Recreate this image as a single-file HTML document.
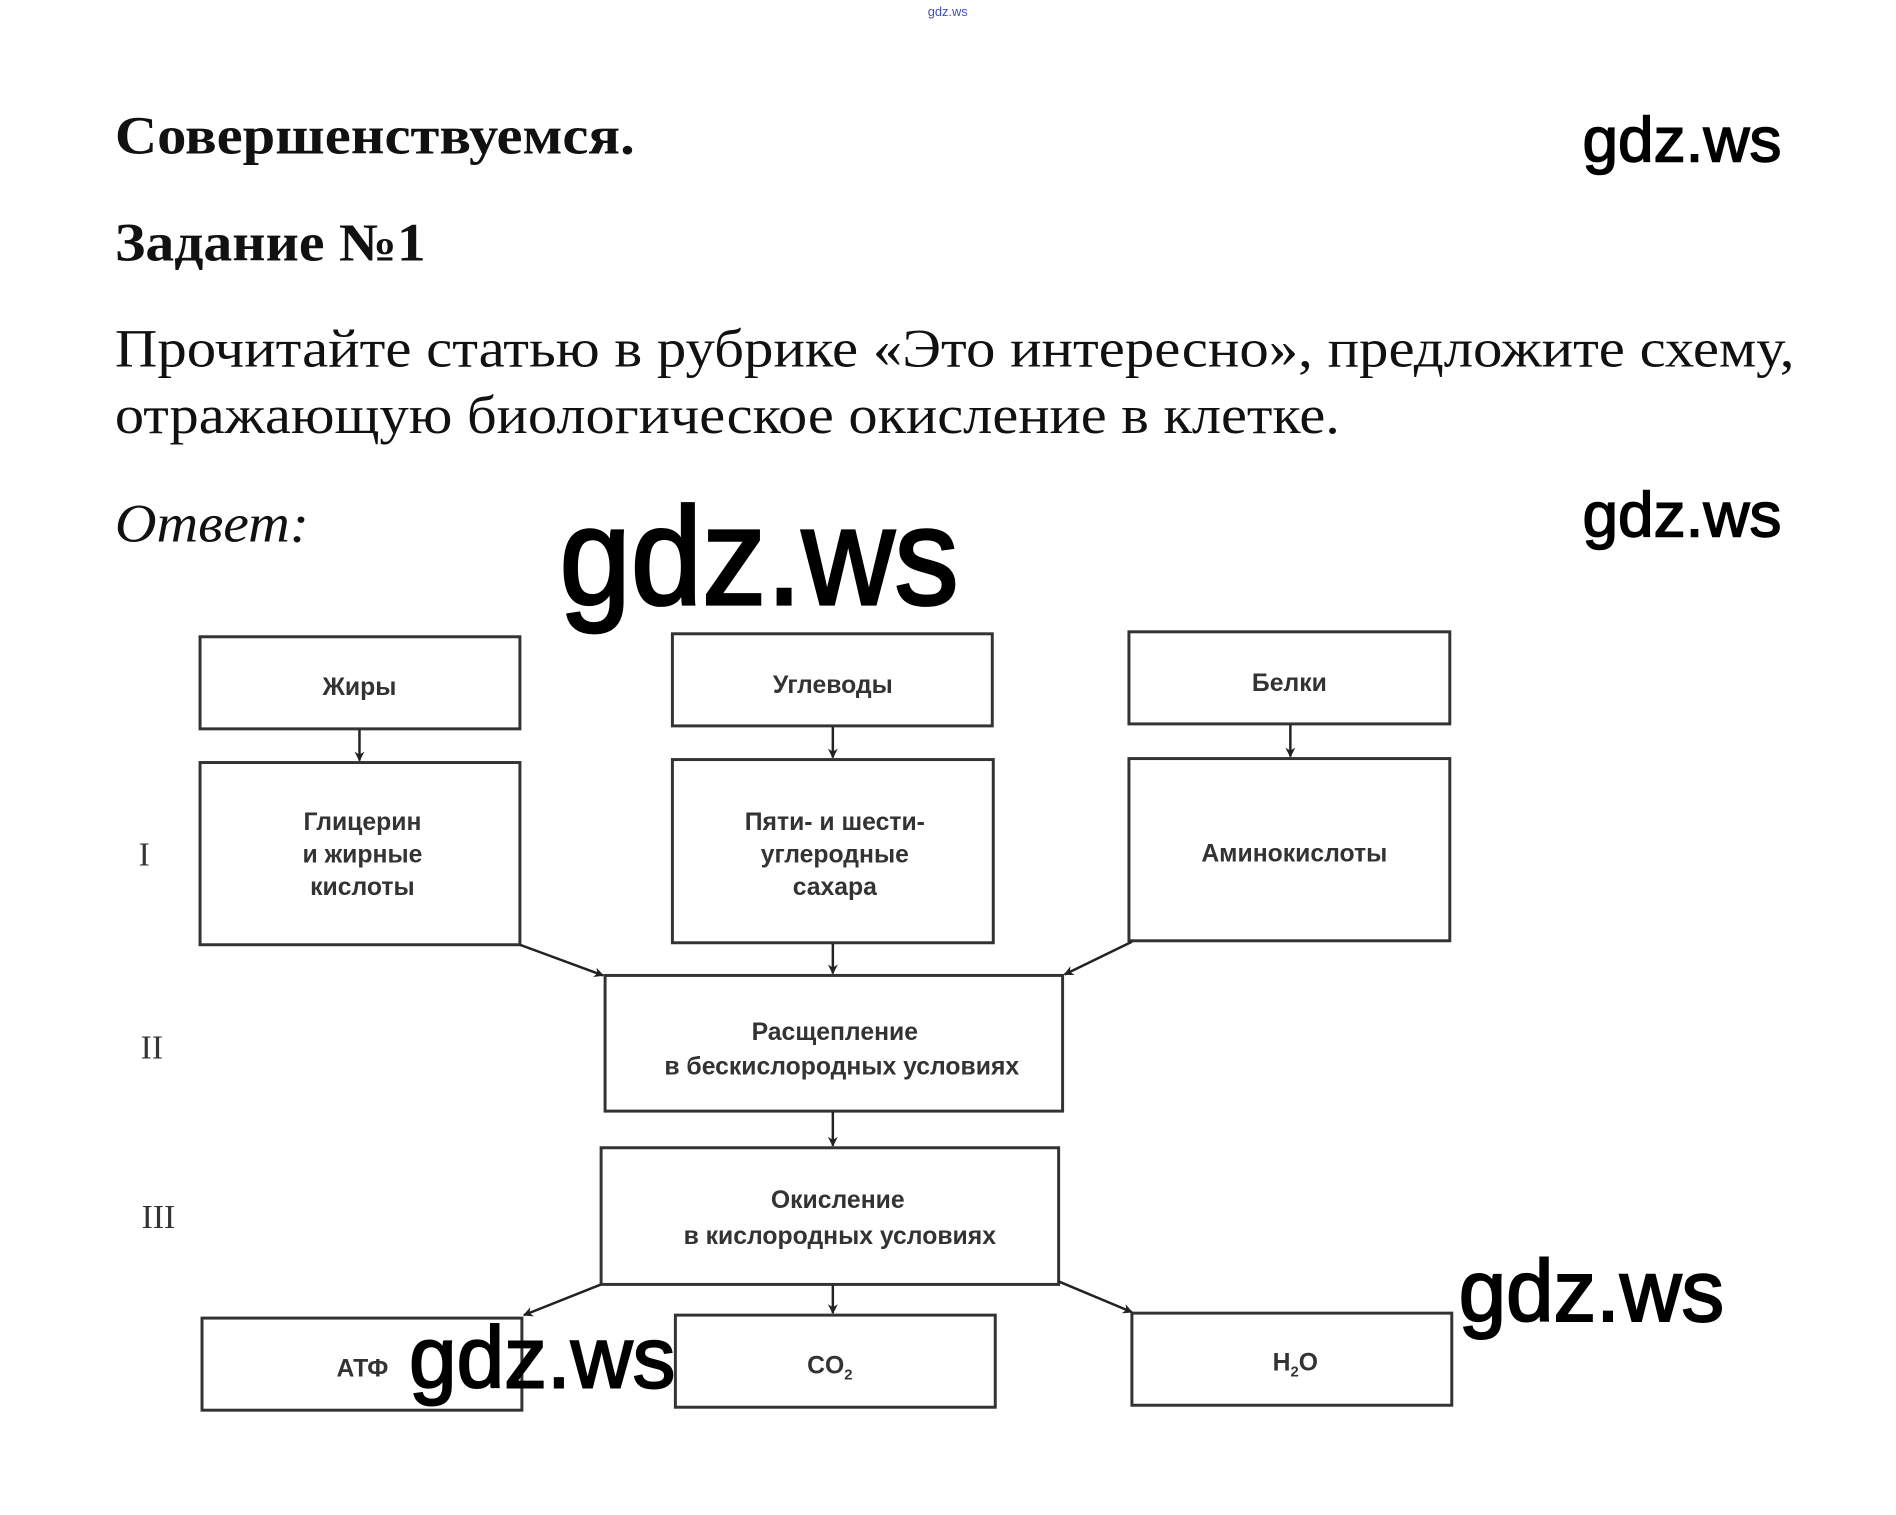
<!DOCTYPE html>
<html><head><meta charset="utf-8"><style>html,body{margin:0;padding:0;background:#fff}svg{display:block}</style></head>
<body>
<svg width="1896" height="1515" viewBox="0 0 1896 1515" xmlns="http://www.w3.org/2000/svg">
<defs><marker id="a" markerWidth="10" markerHeight="10" refX="9" refY="5" orient="auto" markerUnits="userSpaceOnUse"><path d="M0,0 L10,5 L0,10 L3,5 Z" fill="#222"/></marker></defs>
<rect width="1896" height="1515" fill="#fff"/>
<g transform="scale(0.9903)">
<text x="957" y="16" font-family="Liberation Sans, sans-serif" font-size="13" fill="#4050c0" text-anchor="middle">gdz.ws</text>
<g font-family="Liberation Serif, serif" fill="#111">
<text x="116" y="155" font-size="54" font-weight="bold" textLength="525" lengthAdjust="spacingAndGlyphs">Совершенствуемся.</text>
<text x="116" y="263" font-size="54" font-weight="bold" textLength="314" lengthAdjust="spacingAndGlyphs">Задание №1</text>
<text x="116" y="370" font-size="54" textLength="1696" lengthAdjust="spacingAndGlyphs">Прочитайте статью в рубрике «Это интересно», предложите схему,</text>
<text x="116" y="437" font-size="54" textLength="1237" lengthAdjust="spacingAndGlyphs">отражающую биологическое окисление в клетке.</text>
<text x="116" y="547" font-size="54" font-style="italic" textLength="196" lengthAdjust="spacingAndGlyphs">Ответ:</text>
</g>
<g font-family="Liberation Sans, sans-serif" fill="#000" stroke="#000">
<text x="1598" y="163" font-size="64" stroke-width="1.5" textLength="201" lengthAdjust="spacingAndGlyphs">gdz.ws</text>
<text x="1598" y="542" font-size="64" stroke-width="1.5" textLength="201" lengthAdjust="spacingAndGlyphs">gdz.ws</text>
<text x="565" y="610" font-size="140" stroke-width="3" textLength="403" lengthAdjust="spacingAndGlyphs">gdz.ws</text>
</g>
<g fill="none" stroke="#333" stroke-width="3">
<rect x="202" y="643" width="323" height="93"/>
<rect x="679" y="640" width="323" height="93"/>
<rect x="1140" y="638" width="324" height="93"/>
<rect x="202" y="770" width="323" height="184"/>
<rect x="679" y="767" width="324" height="185"/>
<rect x="1140" y="766" width="324" height="184"/>
<rect x="611" y="985" width="462" height="137"/>
<rect x="607" y="1159" width="462" height="138"/>
<rect x="204" y="1331" width="323" height="93"/>
<rect x="682" y="1328" width="323" height="93"/>
<rect x="1143" y="1326" width="323" height="93"/>
</g>
<g stroke="#222" stroke-width="2.5" marker-end="url(#a)">
<line x1="363" y1="737" x2="363" y2="768"/>
<line x1="841" y1="734" x2="841" y2="765"/>
<line x1="1303" y1="732" x2="1303" y2="764"/>
<line x1="525" y1="954" x2="609" y2="985"/>
<line x1="841" y1="953" x2="841" y2="983"/>
<line x1="1143" y1="951" x2="1075" y2="984"/>
<line x1="841" y1="1123" x2="841" y2="1157"/>
<line x1="607" y1="1297" x2="529" y2="1328"/>
<line x1="841" y1="1298" x2="841" y2="1326"/>
<line x1="1069" y1="1294" x2="1143" y2="1325"/>
</g>
<g font-family="Liberation Serif, serif" font-size="34" fill="#333">
<text x="140" y="874">I</text>
<text x="142" y="1069">II</text>
<text x="143" y="1240">III</text>
</g>
<g font-family="Liberation Sans, sans-serif" font-size="25" font-weight="bold" fill="#333" text-anchor="middle">
<text x="363" y="702">Жиры</text>
<text x="841" y="700">Углеводы</text>
<text x="1302" y="698">Белки</text>
<text x="366" y="838">Глицерин</text>
<text x="366" y="871">и жирные</text>
<text x="366" y="904">кислоты</text>
<text x="843" y="838">Пяти- и шести-</text>
<text x="843" y="871">углеродные</text>
<text x="843" y="904">сахара</text>
<text x="1307" y="870">Аминокислоты</text>
<text x="843" y="1050">Расщепление</text>
<text x="850" y="1085">в бескислородных условиях</text>
<text x="846" y="1220">Окисление</text>
<text x="848" y="1256">в кислородных условиях</text>
<text x="366" y="1390">АТФ</text>
<text x="838" y="1387">CO<tspan font-size="15" dy="6">2</tspan></text>
<text x="1308" y="1384">H<tspan font-size="15" dy="6">2</tspan><tspan dy="-6">O</tspan></text>
</g>
<g font-family="Liberation Sans, sans-serif" fill="#000" stroke="#000" stroke-width="2">
<text x="1473" y="1334" font-size="88" textLength="268" lengthAdjust="spacingAndGlyphs">gdz.ws</text>
<text x="413" y="1401" font-size="88" textLength="269" lengthAdjust="spacingAndGlyphs">gdz.ws</text>
</g>
</g>
</svg>
</body></html>
